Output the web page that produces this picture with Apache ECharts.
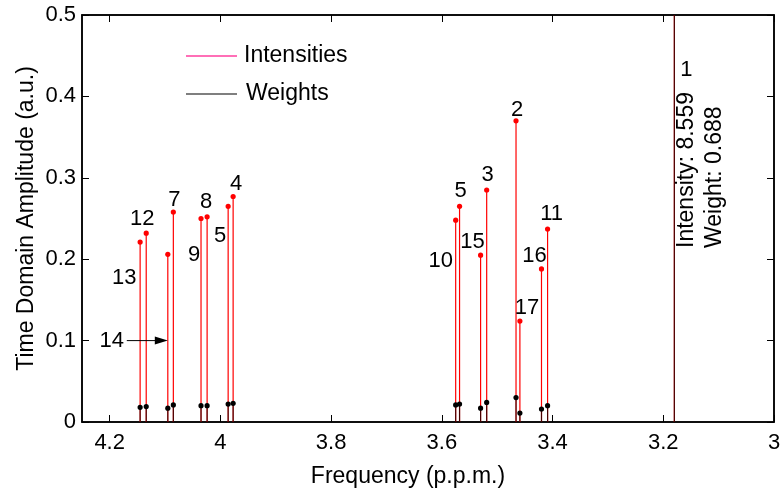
<!DOCTYPE html>
<html>
<head>
<meta charset="utf-8">
<script src="https://cdn.jsdelivr.net/npm/echarts@6/dist/echarts.min.js"></script>
<style>
  html, body { margin: 0; padding: 0; background: #fff; }
  #chart { width: 783px; height: 488px; }
</style>
</head>
<body>
<div id="chart"></div>
<script>
// Fitted resonances: chemical shift (p.p.m.), time-domain amplitude and weight
const peakIds     = ['13', '12', '14', '7', '9', '8', '5', '4', '10', '5', '15', '3', '2', '17', '16', '11', '1'];
const frequencies = [4.145, 4.134, 4.095, 4.085, 4.035, 4.024, 3.986, 3.977, 3.575, 3.568, 3.530, 3.519, 3.466, 3.459, 3.420, 3.409, 3.180];
const intensities = [0.221, 0.232, 0.206, 0.258, 0.250, 0.252, 0.265, 0.277, 0.248, 0.265, 0.205, 0.285, 0.370, 0.124, 0.188, 0.237, 8.559];
const weights     = [0.018, 0.019, 0.017, 0.021, 0.020, 0.020, 0.022, 0.023, 0.021, 0.022, 0.017, 0.024, 0.030, 0.011, 0.016, 0.020, 0.688];

// Axis ticks
const freqTicks = [4.2, 4.0, 3.8, 3.6, 3.4, 3.2, 3.0];
const ampTicks  = [0, 0.1, 0.2, 0.3, 0.4, 0.5];

// ---- layout & styling ----
const FONT_FAMILY = "'Liberation Sans', Arial, Helvetica, sans-serif";
const FONT = '22px ' + FONT_FAMILY;
const FONT_L = '23px ' + FONT_FAMILY;
const AMP_MAX = 0.5;
const ARROW_LEVEL = 0.1;          // height at which the "14" arrow points at its stem
const ARROW_PEAK = 2;
const OFFSCALE_PEAK = 16;
// pixel offsets of each peak number from the top of its stem
const labelOffsets = [
  [-16, 36], [-4, -14], null, [1, -12], [-7, 36], [-1, -15], [-8, 30], [3, -13],
  [-15, 41], [1, -15], [-8, -13], [1, -15], [1, -11], [7, -13], [-7, -13], [4, -15],
  [12, 55]
];

const chart = echarts.init(document.getElementById('chart'), null, { renderer: 'canvas' });

const stemData = frequencies.map((f, i) => [f, intensities[i], weights[i]]);

function stemRenderer(dim, color, lineOpacity) {
  return function (params, api) {
    const f = api.value(0);
    const base = api.coord([f, 0]);
    const top = api.coord([f, api.value(dim)]);
    return {
      type: 'group',
      children: [
        { type: 'line', shape: { x1: base[0], y1: base[1], x2: top[0], y2: top[1] },
          style: { stroke: color, lineWidth: 1.2, opacity: lineOpacity } },
        { type: 'circle', shape: { cx: top[0], cy: top[1], r: 2.6 },
          style: { fill: color } }
      ]
    };
  };
}

function labelRenderer(params, api) {
  const i = params.dataIndex;
  const f = api.value(0);
  const p = api.coord([f, Math.min(api.value(1), AMP_MAX)]);
  const children = [];
  if (i === ARROW_PEAK) {
    const tip = api.coord([f, ARROW_LEVEL]);
    children.push(
      { type: 'line', shape: { x1: tip[0] - 41, y1: tip[1], x2: tip[0] - 12, y2: tip[1] },
        style: { stroke: '#000', lineWidth: 1 } },
      { type: 'polygon', shape: { points: [[tip[0] - 13, tip[1] - 4], [tip[0], tip[1]], [tip[0] - 13, tip[1] + 4]] },
        style: { fill: '#000' } },
      { type: 'text', x: tip[0] - 56, y: tip[1],
        style: { text: peakIds[i], font: FONT, fill: '#000', align: 'center', verticalAlign: 'middle' } }
    );
  } else {
    const off = labelOffsets[i];
    children.push({ type: 'text', x: p[0] + off[0], y: p[1] + off[1],
      style: { text: peakIds[i], font: FONT, fill: '#000', align: 'center', verticalAlign: 'middle' } });
  }
  if (i === OFFSCALE_PEAK) {
    const base = api.coord([f, 0]);
    children.push({
      type: 'text', x: base[0] + 26, y: base[1] - 174, rotation: Math.PI / 2,
      style: {
        text: 'Intensity: ' + intensities[i].toFixed(3) + '\nWeight: ' + weights[i].toFixed(3),
        font: FONT_L, fill: '#000', align: 'left', verticalAlign: 'middle', lineHeight: 28
      }
    });
  }
  return { type: 'group', children: children };
}

const axisLineStyle = { color: '#000', width: 1.5 };
const tickStyle = { color: '#000', width: 1 };

const option = {
  animation: false,
  backgroundColor: '#fff',
  textStyle: { fontFamily: FONT_FAMILY },
  grid: { left: 82, right: 9, top: 15, bottom: 66, containLabel: false, outerBoundsMode: 'none',
          show: true, borderColor: '#000', borderWidth: 1.5, backgroundColor: 'transparent' },
  xAxis: [
    {
      type: 'value', min: 3, max: 4.25, interval: 0.2, inverse: true, position: 'bottom',
      name: 'Frequency (p.p.m.)', nameLocation: 'middle', nameGap: 43, nameMoveOverlap: false,
      nameTextStyle: { fontSize: 23, color: '#000', fontFamily: FONT_FAMILY, padding: [0, 40, 0, 0] },
      axisLine: { show: true, onZero: false, lineStyle: axisLineStyle },
      axisTick: { show: true, inside: true, length: 7, lineStyle: tickStyle, customValues: freqTicks },
      axisLabel: { show: true, fontSize: 22, color: '#000', margin: 10, fontFamily: FONT_FAMILY,
                   customValues: freqTicks, showMinLabel: true, showMaxLabel: true, hideOverlap: false },
      splitLine: { show: false }
    },
    {
      type: 'value', min: 3, max: 4.25, interval: 0.2, inverse: true, position: 'top',
      axisLine: { show: true, onZero: false, lineStyle: axisLineStyle },
      axisTick: { show: true, inside: true, length: 7, lineStyle: tickStyle, customValues: freqTicks },
      axisLabel: { show: false },
      splitLine: { show: false }
    }
  ],
  yAxis: [
    {
      type: 'value', min: 0, max: AMP_MAX, interval: 0.1, position: 'left',
      name: 'Time Domain Amplitude (a.u.)', nameLocation: 'middle', nameGap: 44, nameRotate: 90,
      nameMoveOverlap: false,
      nameTextStyle: { fontSize: 23, color: '#000', fontFamily: FONT_FAMILY },
      axisLine: { show: true, onZero: false, lineStyle: axisLineStyle },
      axisTick: { show: true, inside: true, length: 7, lineStyle: tickStyle, customValues: ampTicks },
      axisLabel: { show: true, fontSize: 22, color: '#000', margin: 6, fontFamily: FONT_FAMILY,
                   customValues: ampTicks },
      splitLine: { show: false }
    },
    {
      type: 'value', min: 0, max: AMP_MAX, interval: 0.1, position: 'right',
      axisLine: { show: true, onZero: false, lineStyle: axisLineStyle },
      axisTick: { show: true, inside: true, length: 7, lineStyle: tickStyle, customValues: ampTicks },
      axisLabel: { show: false },
      splitLine: { show: false }
    }
  ],
  graphic: [
    { type: 'line', shape: { x1: 186, y1: 56, x2: 237, y2: 56 }, style: { stroke: '#ff3f9f', lineWidth: 1.4 } },
    { type: 'text', x: 244, y: 56, style: { text: 'Intensities', font: FONT_L, fill: '#000', verticalAlign: 'middle' } },
    { type: 'line', shape: { x1: 186, y1: 94, x2: 237, y2: 94 }, style: { stroke: '#000', lineWidth: 1.2 } },
    { type: 'text', x: 246, y: 94, style: { text: 'Weights', font: FONT_L, fill: '#000', verticalAlign: 'middle' } }
  ],
  series: [
    {
      name: 'Intensities', type: 'custom', clip: true, xAxisIndex: 0, yAxisIndex: 0,
      renderItem: stemRenderer(1, '#ff0000', 1),
      encode: { x: 0, y: 1 },
      data: stemData, z: 2
    },
    {
      name: 'Weights', type: 'custom', clip: true, xAxisIndex: 0, yAxisIndex: 0,
      renderItem: stemRenderer(2, '#000000', 0.72),
      encode: { x: 0, y: 2 },
      data: stemData, z: 3
    },
    {
      name: 'Labels', type: 'custom', clip: false, xAxisIndex: 1, yAxisIndex: 1,
      renderItem: labelRenderer,
      encode: { x: 0, y: 1 },
      data: stemData, z: 4, silent: true
    }
  ]
};

chart.setOption(option);
</script>
</body>
</html>
